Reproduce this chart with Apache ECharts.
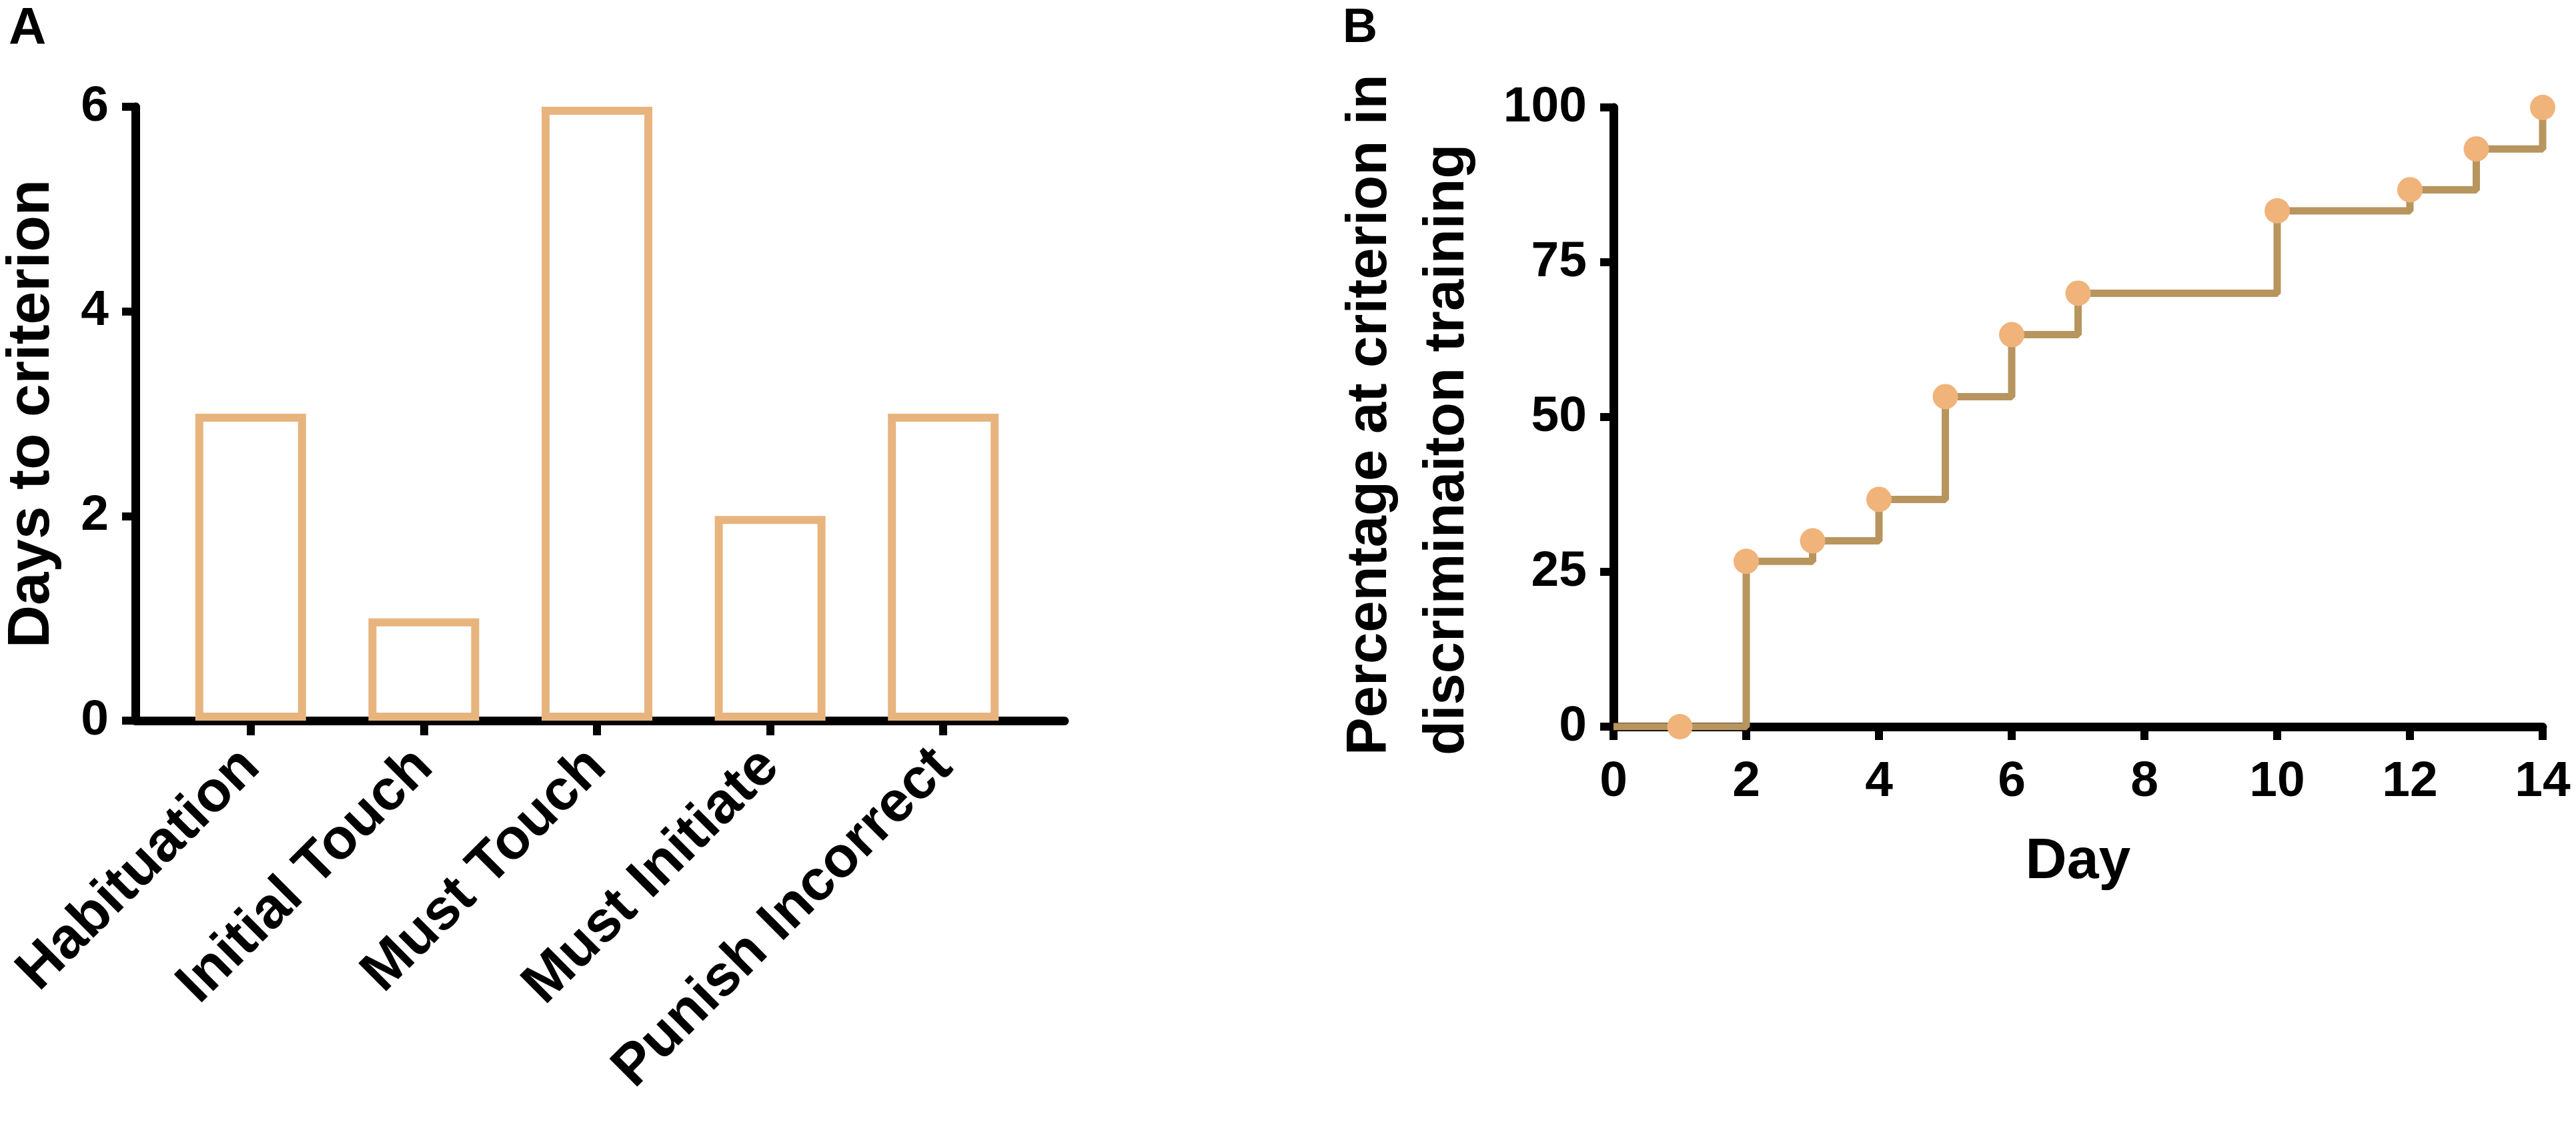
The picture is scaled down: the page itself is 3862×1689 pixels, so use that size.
<!DOCTYPE html>
<html>
<head>
<meta charset="utf-8">
<script src="https://cdn.jsdelivr.net/npm/echarts@6/dist/echarts.min.js"></script>
<style>
  html, body { margin: 0; padding: 0; background: #fff; }
  #main { width: 3862px; height: 1689px; }
</style>
</head>
<body>
<div id="main"></div>
<script>
// panel A
var stages = ['Habituation', 'Initial Touch', 'Must Touch', 'Must Initiate', 'Punish Incorrect'];
var daysToCriterion = [3, 1, 6, 2, 3];
var daysTicks = [0, 2, 4, 6];

// panel B - step curve and the markers on it
var stepDays = [0, 2, 3, 4, 5, 6, 7, 10, 12, 13, 14];
var stepPct = [0, 26.7, 30, 36.7, 53.3, 63.3, 70, 83.3, 86.7, 93.3, 100];
var markDays = [1, 2, 3, 4, 5, 6, 7, 10, 12, 13, 14];
var markPct = [0, 26.7, 30, 36.7, 53.3, 63.3, 70, 83.3, 86.7, 93.3, 100];
var dayTicks = [0, 2, 4, 6, 8, 10, 12, 14];
var pctTicks = [0, 25, 50, 75, 100];

var FONT = '"Liberation Sans", Arial, sans-serif';
var barColor = '#e8b47e';
var lineColor = '#b8955e';
var dotColor = '#f0b37a';

var chart = echarts.init(document.getElementById('main'));

function pairs(xs, ys) {
  var out = [];
  for (var i = 0; i < xs.length; i++) out.push([xs[i], ys[i]]);
  return out;
}

var axisLine = { show: true, lineStyle: { color: '#000', width: 13 } };
var tick = { show: true, length: 20, lineStyle: { color: '#000', width: 12 } };
var tickLabel = { color: '#000', fontFamily: FONT, fontWeight: 'bold', fontSize: 75 };

var option = {
  backgroundColor: '#ffffff',
  animation: false,
  title: [
    { text: 'A', left: 8, top: 0, textStyle: { fontFamily: FONT, fontWeight: 'bold', fontSize: 78, color: '#000' } },
    { text: 'B', left: 2008, top: 2, textStyle: { fontFamily: FONT, fontWeight: 'bold', fontSize: 72, color: '#000' } }
  ],
  grid: [
    { left: 246, width: 1298, top: 160, bottom: 609 },
    { left: 203, width: 1393, top: 160, bottom: 609 },
    { left: 2419, right: 50, top: 161, bottom: 600 }
  ],
  xAxis: [
    {
      gridIndex: 0, type: 'category', data: stages,
      axisLine: axisLine,
      axisTick: { show: true, alignWithLabel: true, length: 22, lineStyle: { color: '#000', width: 12 } },
      axisLabel: { interval: 0, rotate: 45, margin: 56, color: '#000', fontFamily: FONT, fontWeight: 'bold', fontSize: 86 },
      splitLine: { show: false }
    },
    {
      gridIndex: 1, type: 'value', min: 0, max: 1,
      axisLine: axisLine, axisTick: { show: false }, axisLabel: { show: false }, splitLine: { show: false }
    },
    {
      gridIndex: 2, type: 'value', min: dayTicks[0], max: dayTicks[dayTicks.length - 1], interval: 2,
      name: 'Day', nameLocation: 'middle', nameGap: 160,
      nameTextStyle: { color: '#000', fontFamily: FONT, fontWeight: 'bold', fontSize: 86 },
      axisLine: axisLine, axisTick: tick,
      axisLabel: Object.assign({ margin: 46 }, tickLabel),
      splitLine: { show: false }
    }
  ],
  yAxis: [
    {
      gridIndex: 0, type: 'value', min: daysTicks[0], max: daysTicks[daysTicks.length - 1], interval: 2,
      offset: 43,
      name: 'Days to criterion', nameLocation: 'middle', nameGap: 110,
      nameTextStyle: { color: '#000', fontFamily: FONT, fontWeight: 'bold', fontSize: 89 },
      axisLine: axisLine, axisTick: tick,
      axisLabel: Object.assign({ margin: 40 }, tickLabel),
      splitLine: { show: false }
    },
    { gridIndex: 1, type: 'value', show: false, min: 0, max: 1 },
    {
      gridIndex: 2, type: 'value', min: pctTicks[0], max: pctTicks[pctTicks.length - 1], interval: 25,
      axisLine: axisLine, axisTick: tick,
      axisLabel: Object.assign({ margin: 40 }, tickLabel),
      splitLine: { show: false }
    }
  ],
  graphic: [
    {
      type: 'text', x: 2113, y: 1132, rotation: Math.PI / 2,
      style: {
        text: 'Percentage at criterion in\ndiscriminaiton training',
        fontFamily: FONT, fontWeight: 'bold', fontSize: 85, lineHeight: 116,
        fill: '#000', align: 'left', verticalAlign: 'middle'
      }
    }
  ],
  series: [
    {
      type: 'bar', xAxisIndex: 0, yAxisIndex: 0,
      data: daysToCriterion,
      barWidth: 166,
      itemStyle: { color: 'rgba(255,255,255,0)', borderColor: barColor, borderWidth: 12 },
      z: 1
    },
    {
      type: 'line', xAxisIndex: 2, yAxisIndex: 2,
      data: pairs(stepDays, stepPct),
      step: 'end', symbol: 'none',
      lineStyle: { color: lineColor, width: 11 },
      z: 3
    },
    {
      type: 'scatter', xAxisIndex: 2, yAxisIndex: 2,
      data: pairs(markDays, markPct),
      symbol: 'circle', symbolSize: 38,
      itemStyle: { color: dotColor, opacity: 1 },
      z: 4
    }
  ]
};

chart.setOption(option);
</script>
</body>
</html>
